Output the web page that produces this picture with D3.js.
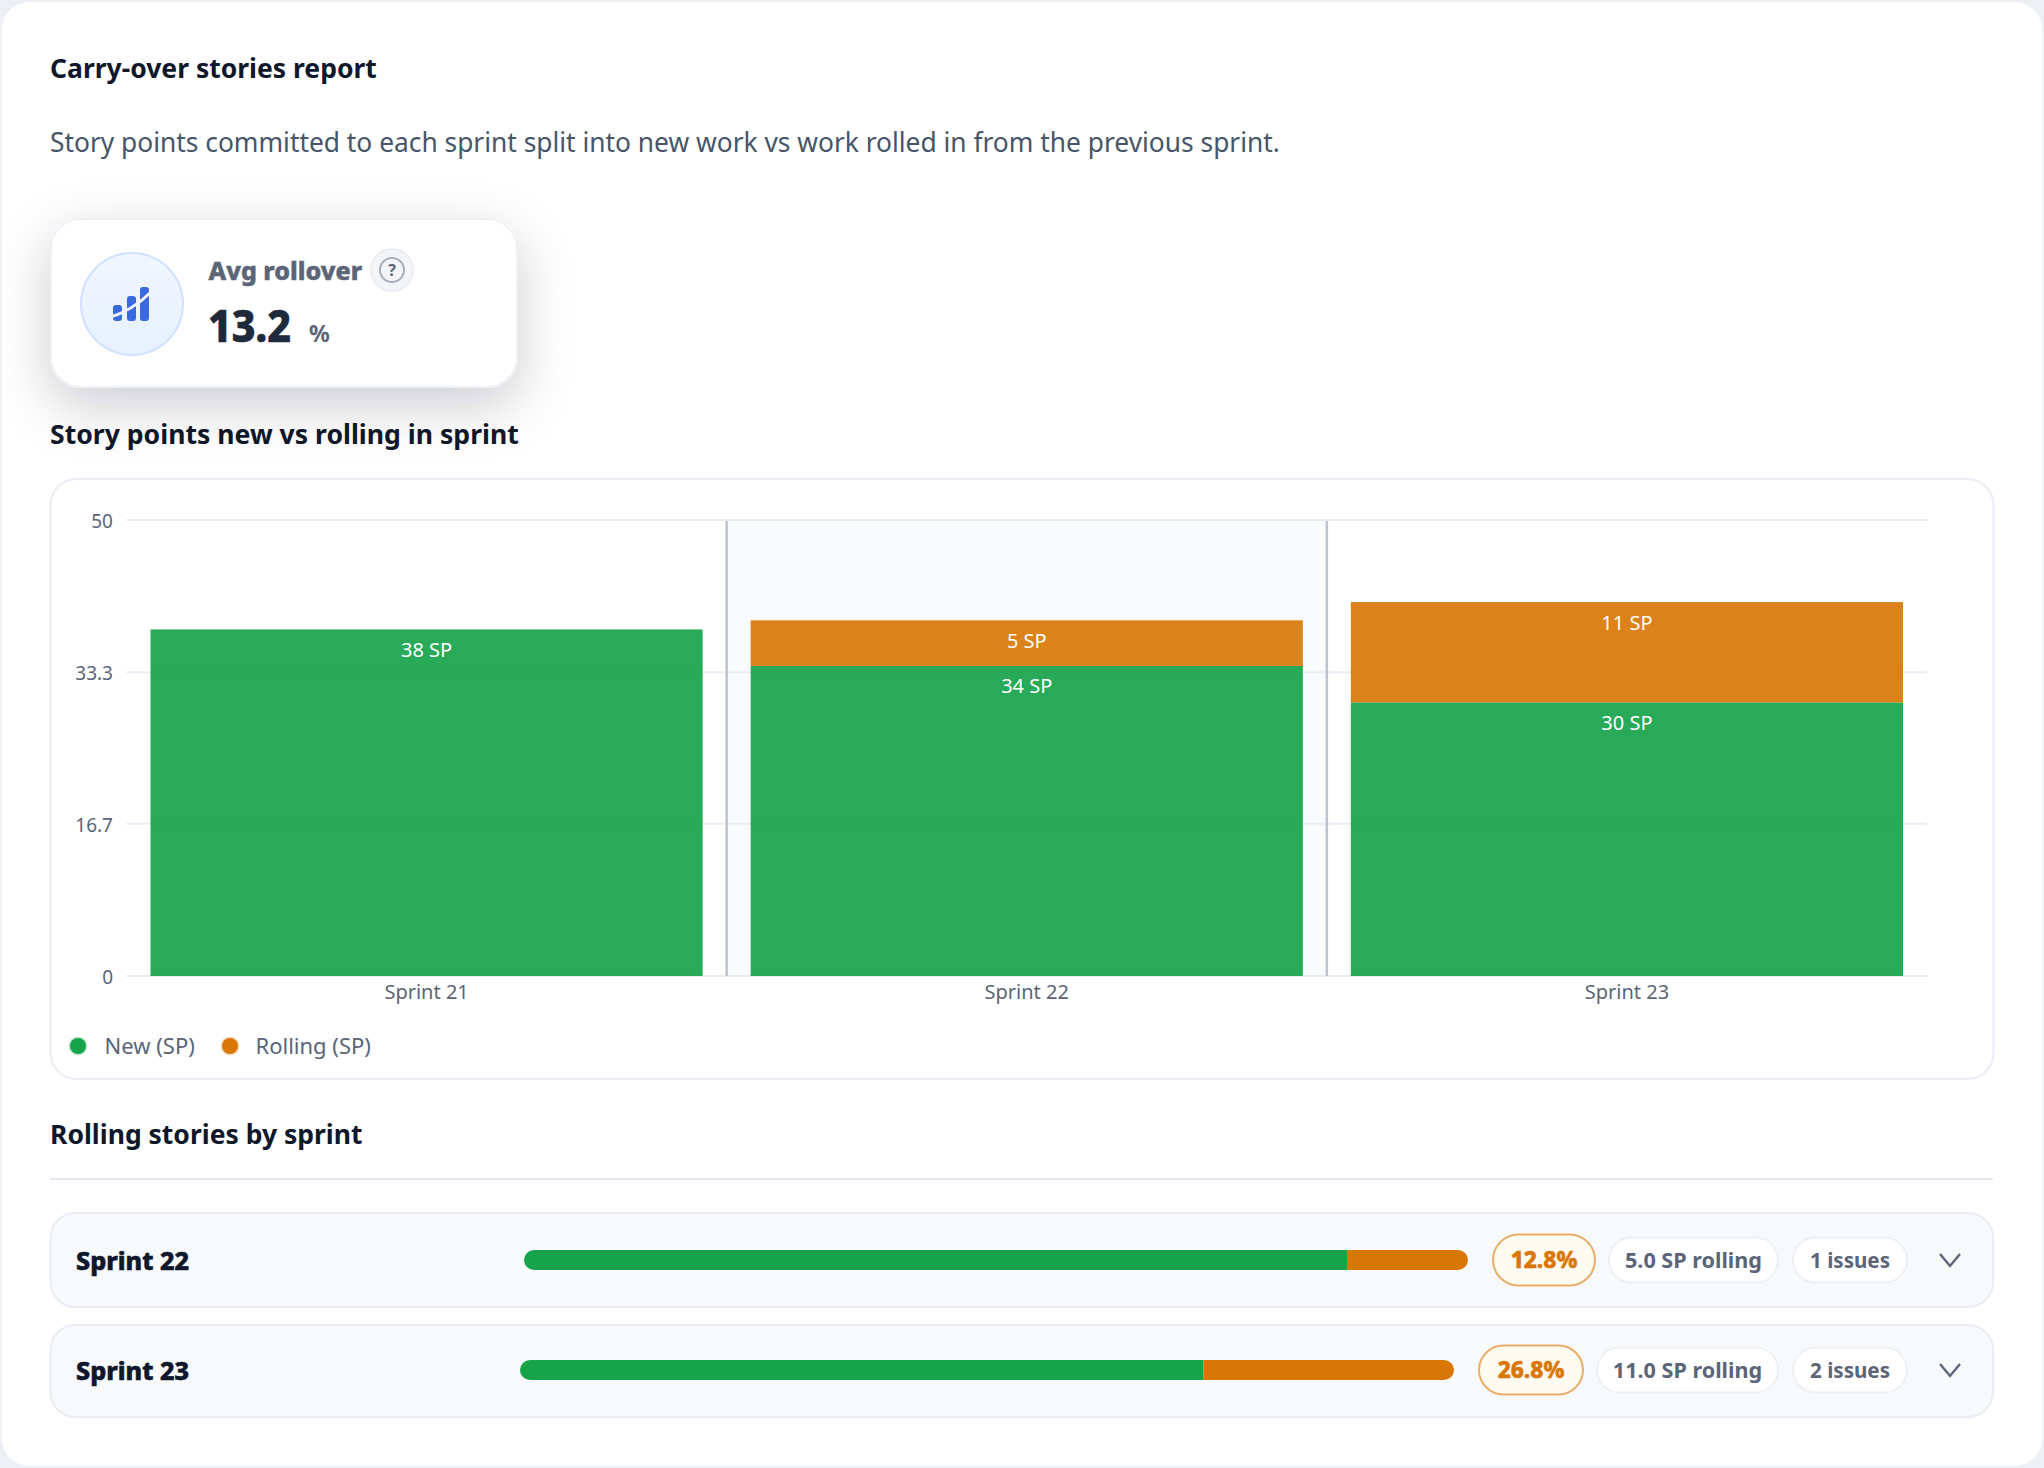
<!DOCTYPE html>
<html lang="en">
<head>
<meta charset="utf-8">
<title>Carry-over stories report</title>
<script src="https://cdnjs.cloudflare.com/ajax/libs/d3/7.8.5/d3.min.js"></script>
<style>
  html, body { margin: 0; padding: 0; background: #eceff4; }
  svg { display: block; font-family: "Noto Sans", sans-serif; }
  .axis .domain { display: none; }
  .axis text { fill: #5b6577; font-family: "Noto Sans", sans-serif; }
  .y.axis text { font-size: 19px; }
  .x.axis text { font-size: 20px; }
  .y.axis line { stroke: #e8ecf4; stroke-width: 2px; }
  .x.axis line { display: none; }
</style>
</head>
<body>
<svg id="page" width="2044" height="1468"></svg>
<script>
// Sprint data
const sprints = ["Sprint 21", "Sprint 22", "Sprint 23"];
const newPoints = [38, 34, 30];
const rollingPoints = [0, 5, 11];
const yTickValues = [0, 16.7, 33.3, 50];
const yTickLabels = ["0", "16.7", "33.3", "50"];
const seriesNames = ["New (SP)", "Rolling (SP)"];

// Rows of the rolling breakdown
const rowSprints = ["Sprint 22", "Sprint 23"];
const rowNew = [34, 30];
const rowRolling = [5, 11];
const rowPercent = ["12.8%", "26.8%"];
const rowRollingLabel = ["5.0 SP rolling", "11.0 SP rolling"];
const rowIssues = ["1 issues", "2 issues"];

const COLOR_NEW = "#16a34a", COLOR_ROLL = "#d97706";
const INK = "#0f172a", MUTED = "#5b6577";

const svg = d3.select("#page");
const defs = svg.append("defs");

const soft = defs.append("filter").attr("id", "kpiShadow")
  .attr("x", "-40%").attr("y", "-70%").attr("width", "180%").attr("height", "260%");
soft.append("feDropShadow").attr("dx", 0).attr("dy", 18).attr("stdDeviation", 27)
  .attr("flood-color", "#0f172a").attr("flood-opacity", 0.2);

const iconFill = defs.append("linearGradient").attr("id", "iconFill")
  .attr("x1", 0).attr("y1", 0).attr("x2", 0).attr("y2", 1);
iconFill.append("stop").attr("offset", "0%").attr("stop-color", "#f1f6ff");
iconFill.append("stop").attr("offset", "100%").attr("stop-color", "#e6f0ff");

// Page surface
svg.append("rect").attr("x", 1.5).attr("y", 2).attr("width", 2041).attr("height", 1464)
  .attr("rx", 28).attr("fill", "#ffffff");

function label(sel, x, y, text, size, weight, fill, anchor) {
  return sel.append("text").attr("x", x).attr("y", y).text(text)
    .attr("font-size", size).attr("font-weight", weight).attr("fill", fill)
    .attr("text-anchor", anchor || "start");
}
// Heavier face: a thin outline in the text colour on top of the bold weight
const heavy = (sel, w) => sel.attr("stroke", sel.attr("fill")).attr("stroke-width", w);

label(svg, 50, 78, "Carry-over stories report", 26.5, 700, INK);
label(svg, 50, 152, "Story points committed to each sprint split into new work vs work rolled in from the previous sprint.", 26.35, 400, "#475569");
label(svg, 50, 444, "Story points new vs rolling in sprint", 26.6, 700, INK);
label(svg, 50, 1144, "Rolling stories by sprint", 26.5, 700, INK);

// KPI card
const kpi = svg.append("g");
kpi.append("rect").attr("x", 51).attr("y", 219).attr("width", 466).attr("height", 168)
  .attr("rx", 30).attr("fill", "#fff").attr("stroke", "#eef1f6").attr("stroke-width", 2)
  .attr("filter", "url(#kpiShadow)");
kpi.append("circle").attr("cx", 132).attr("cy", 304).attr("r", 51)
  .attr("fill", "url(#iconFill)").attr("stroke", "#cfe2ff").attr("stroke-width", 2);
const icon = kpi.append("g").attr("fill", "#3b69e0");
icon.append("rect").attr("x", 113).attr("y", 305).attr("width", 9).attr("height", 16).attr("rx", 3);
icon.append("rect").attr("x", 127).attr("y", 296).attr("width", 9).attr("height", 25).attr("rx", 3);
icon.append("rect").attr("x", 140).attr("y", 287).attr("width", 9).attr("height", 34).attr("rx", 3);
kpi.append("path").attr("d", "M108 318 Q132 311 151 292").attr("fill", "none")
  .attr("stroke", "#edf3ff").attr("stroke-width", 3);
heavy(label(kpi, 208.5, 280, "Avg rollover", 25, 800, MUTED), 0.5);
kpi.append("circle").attr("cx", 392).attr("cy", 270).attr("r", 21)
  .attr("fill", "#f3f5f9").attr("stroke", "#e8ebf1").attr("stroke-width", 1.5);
kpi.append("circle").attr("cx", 392).attr("cy", 270).attr("r", 12)
  .attr("fill", "none").attr("stroke", "#a9afba").attr("stroke-width", 2);
label(kpi, 392, 276, "?", 16, 700, MUTED, "middle");
heavy(label(kpi, 208, 342, "13.2", 44, 800, "#1e293b")
  .attr("textLength", 83).attr("lengthAdjust", "spacingAndGlyphs"), 0.7);
label(kpi, 309, 342, "%", 23, 700, MUTED);

// Chart panel
svg.append("rect").attr("x", 50.5).attr("y", 479).attr("width", 1943).attr("height", 600)
  .attr("rx", 26).attr("fill", "#fff").attr("stroke", "#e8ecf4").attr("stroke-width", 2);

const plot = { left: 126.5, right: 1927, top: 520, bottom: 976 };
const x = d3.scaleBand().domain(sprints).range([plot.left, plot.right])
  .paddingInner(0.08).paddingOuter(0.04);
const y = d3.scaleLinear().domain([0, 50]).range([plot.bottom, plot.top]);
const step = x.step();

// Shaded band behind the middle sprint
svg.append("rect").attr("x", x("Sprint 22") - step * 0.04).attr("y", plot.top)
  .attr("width", step).attr("height", plot.bottom - plot.top).attr("fill", "#fafbfd");

const yAxis = d3.axisLeft(y).tickValues(yTickValues)
  .tickFormat((d, i) => yTickLabels[i]).offset(0)
  .tickSize(-(plot.right - plot.left)).tickPadding(13.5);
const yAxisG = svg.append("g").attr("class", "y axis").attr("transform", `translate(${plot.left},0)`).call(yAxis);
yAxisG.selectAll("text").attr("dy", "0.42em");

// Separators between sprints
svg.append("g").selectAll("line").data(sprints.slice(1)).join("line")
  .attr("x1", d => x(d) - step * 0.04).attr("x2", d => x(d) - step * 0.04)
  .attr("y1", plot.top + 1).attr("y2", plot.bottom)
  .attr("stroke", "#bcc3ce").attr("stroke-width", 2.5);

const table = sprints.map((s, i) => ({ sprint: s, "new": newPoints[i], rolling: rollingPoints[i] }));
const stacked = d3.stack().keys(["new", "rolling"])(table);
const seriesColor = d3.scaleOrdinal().domain(["new", "rolling"]).range([COLOR_NEW, COLOR_ROLL]);

const layers = svg.append("g").selectAll("g").data(stacked).join("g")
  .attr("fill", d => seriesColor(d.key)).attr("fill-opacity", 0.92);
layers.selectAll("rect").data(d => d.filter(p => p[1] > p[0])).join("rect")
  .attr("x", d => x(d.data.sprint)).attr("width", x.bandwidth())
  .attr("y", d => y(d[1])).attr("height", d => y(d[0]) - y(d[1]));

const labels = svg.append("g").selectAll("g").data(stacked).join("g");
labels.selectAll("text").data(d => d.filter(p => p[1] > p[0])).join("text")
  .attr("x", d => x(d.data.sprint) + x.bandwidth() / 2)
  .attr("y", d => y(d[1]) + 20.5).attr("dy", "0.35em")
  .attr("text-anchor", "middle").attr("font-size", 20).attr("fill", "#ffffff")
  .text(d => (d[1] - d[0]) + " SP");

const xAxis = d3.axisBottom(x).tickSize(0).tickPadding(9).offset(0);
svg.append("g").attr("class", "x axis").attr("transform", `translate(0,${plot.bottom})`).call(xAxis);

// Legend
const legendX = [78, 230];
const legend = svg.append("g").selectAll("g").data(seriesNames).join("g")
  .attr("transform", (d, i) => `translate(${legendX[i]},1046)`);
legend.append("circle").attr("r", 9.5).attr("fill", (d, i) => [COLOR_NEW, COLOR_ROLL][i]).attr("fill-opacity", 0.25);
legend.append("circle").attr("r", 8).attr("fill", (d, i) => [COLOR_NEW, COLOR_ROLL][i]);
legend.append("text").attr("x", (d, i) => [26.5, 25.5][i]).attr("dy", "0.35em").attr("font-size", 22).attr("fill", MUTED).text(d => d);

svg.append("line").attr("x1", 50).attr("x2", 1993).attr("y1", 1179).attr("y2", 1179)
  .attr("stroke", "#e3e8f1").attr("stroke-width", 2);

// Rolling rows
const rowBox = [{ top: 1213, bottom: 1307 }, { top: 1325, bottom: 1417 }];
const rowBar = [{ from: 524, to: 1468 }, { from: 520, to: 1454 }];
const pctPill = [{ from: 1493, to: 1595, h: 51 }, { from: 1479, to: 1583, h: 49 }];
const ptsPill = [{ from: 1609, to: 1778 }, { from: 1597, to: 1778 }];
const issuePill = { from: 1793, to: 1907 };

rowSprints.forEach((name, i) => {
  const box = rowBox[i];
  const cy = i === 0 ? 1260 : 1370;
  const g = svg.append("g");
  g.append("rect").attr("x", 50.5).attr("y", box.top).attr("width", 1942.5)
    .attr("height", box.bottom - box.top).attr("rx", 25)
    .attr("fill", "#f8f9fb").attr("stroke", "#e9ecf3").attr("stroke-width", 2);
  heavy(label(g, 76, cy + 9.5, name, 25.2, 800, INK), 0.6);

  const total = rowNew[i] + rowRolling[i];
  const bar = d3.scaleLinear().domain([0, total]).range([rowBar[i].from, rowBar[i].to]);
  const clipId = "bar-clip-" + i;
  defs.append("clipPath").attr("id", clipId).append("rect")
    .attr("x", bar(0)).attr("y", cy - 10).attr("width", bar(total) - bar(0)).attr("height", 20).attr("rx", 10);
  const track = g.append("g").attr("clip-path", `url(#${clipId})`);
  track.append("rect").attr("x", bar(0)).attr("y", cy - 10)
    .attr("width", bar(rowNew[i]) - bar(0)).attr("height", 20).attr("fill", COLOR_NEW);
  track.append("rect").attr("x", bar(rowNew[i])).attr("y", cy - 10)
    .attr("width", bar(total) - bar(rowNew[i])).attr("height", 20).attr("fill", COLOR_ROLL);

  const pill = (p, h, fill, stroke, text, size, weight, color) => {
    g.append("rect").attr("x", p.from).attr("y", cy - h / 2).attr("width", p.to - p.from)
      .attr("height", h).attr("rx", h / 2).attr("fill", fill).attr("stroke", stroke).attr("stroke-width", 2);
    return g.append("text").attr("x", (p.from + p.to) / 2).attr("y", cy + 0.5).attr("dy", "0.35em")
      .attr("text-anchor", "middle").attr("font-size", size).attr("font-weight", weight)
      .attr("fill", color).text(text);
  };
  heavy(pill(pctPill[i], pctPill[i].h, "#fffbf0", "#e9ae6b", rowPercent[i], 22.7, 800, COLOR_ROLL), 0.5);
  pill(ptsPill[i], 45, "#fff", "#edf0f5", rowRollingLabel[i], 21.6, 700, MUTED);
  pill(issuePill, 45, "#fff", "#edf0f5", rowIssues[i], 20.6, 700, MUTED);

  g.append("path").attr("d", `M${1950 - 10} ${cy - 6} L1950 ${cy + 6} L${1950 + 10} ${cy - 6}`)
    .attr("fill", "none").attr("stroke", MUTED).attr("stroke-width", 2.4);
});
</script>
</body>
</html>
